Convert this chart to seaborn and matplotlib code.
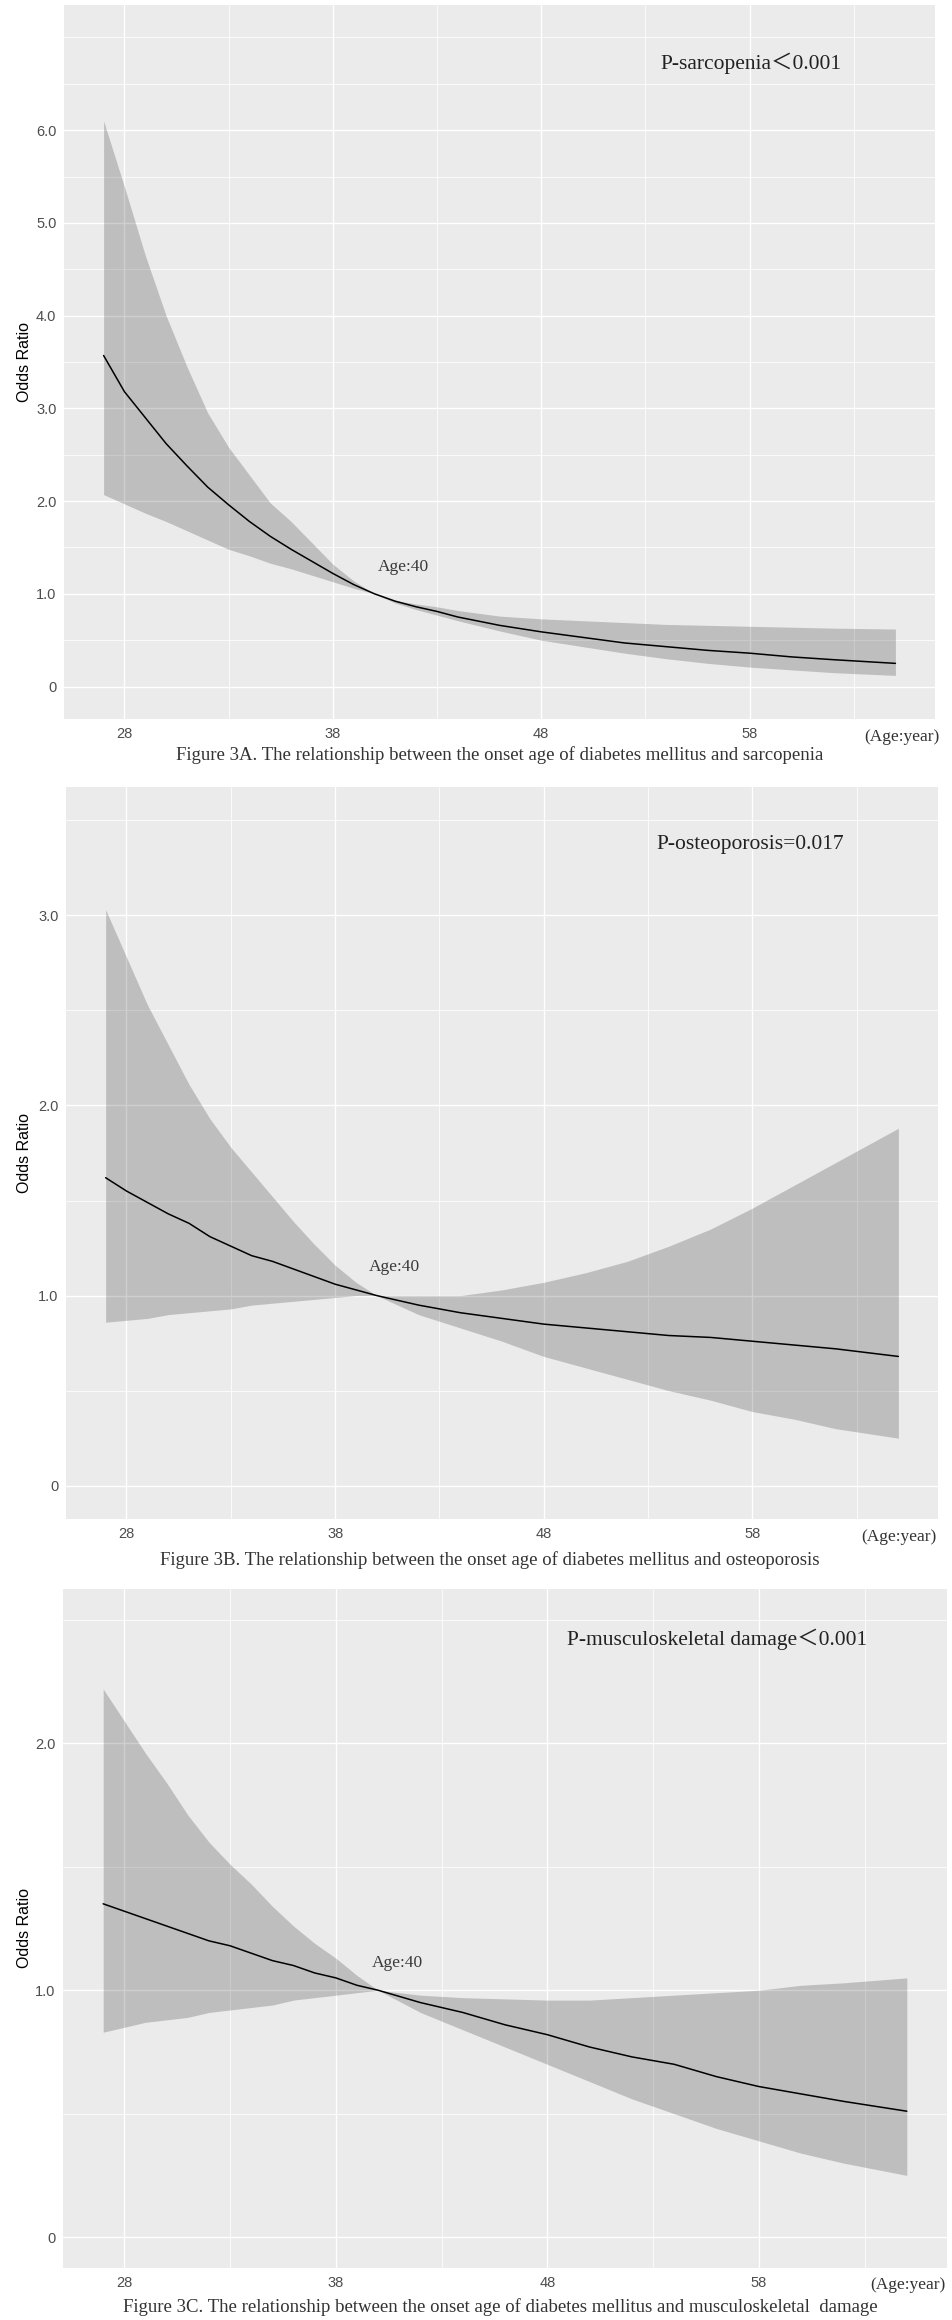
import numpy as np
import matplotlib.pyplot as plt
import seaborn as sns
import pandas as pd

# ---- Figure 3A: sarcopenia ----
ages_a = [27, 28, 29, 30, 31, 32, 33, 34, 35, 36, 37, 38, 39, 40, 41, 42, 43, 44,
          46, 48, 50, 52, 54, 56, 58, 60, 62, 65]
or_a = [3.57, 3.18, 2.90, 2.62, 2.38, 2.15, 1.96, 1.78, 1.62, 1.48, 1.35, 1.22, 1.10, 1.00,
        0.92, 0.86, 0.81, 0.75, 0.66, 0.59, 0.53, 0.47, 0.43, 0.39, 0.36, 0.32, 0.29, 0.25]
lo_a = [2.07, 1.97, 1.87, 1.78, 1.68, 1.58, 1.48, 1.41, 1.33, 1.27, 1.20, 1.13, 1.06, 1.00,
        0.90, 0.83, 0.77, 0.71, 0.60, 0.50, 0.43, 0.36, 0.30, 0.25, 0.21, 0.18, 0.15, 0.12]
hi_a = [6.10, 5.39, 4.65, 4.00, 3.45, 2.95, 2.58, 2.28, 1.98, 1.78, 1.55, 1.32, 1.14, 1.00,
        0.93, 0.89, 0.86, 0.82, 0.76, 0.73, 0.71, 0.69, 0.67, 0.66, 0.65, 0.64, 0.63, 0.62]

# ---- Figure 3B: osteoporosis ----
ages_b = [27, 28, 29, 30, 31, 32, 33, 34, 35, 36, 37, 38, 39, 40, 42, 44, 46, 48, 50,
          52, 54, 56, 58, 60, 62, 65]
or_b = [1.62, 1.55, 1.49, 1.43, 1.38, 1.31, 1.26, 1.21, 1.18, 1.14, 1.10, 1.06, 1.03, 1.00,
        0.95, 0.91, 0.88, 0.85, 0.83, 0.81, 0.79, 0.78, 0.76, 0.74, 0.72, 0.68]
lo_b = [0.86, 0.87, 0.88, 0.90, 0.91, 0.92, 0.93, 0.95, 0.96, 0.97, 0.98, 0.99, 1.00, 1.00,
        0.90, 0.83, 0.76, 0.68, 0.62, 0.56, 0.50, 0.45, 0.39, 0.35, 0.30, 0.25]
hi_b = [3.03, 2.78, 2.53, 2.32, 2.11, 1.93, 1.78, 1.65, 1.52, 1.39, 1.27, 1.16, 1.07, 1.00,
        1.00, 1.00, 1.03, 1.07, 1.12, 1.18, 1.26, 1.35, 1.46, 1.58, 1.70, 1.88]

# ---- Figure 3C: musculoskeletal damage ----
ages_c = [27, 28, 29, 30, 31, 32, 33, 34, 35, 36, 37, 38, 39, 40, 42, 44, 46, 48, 50,
          52, 54, 56, 58, 60, 62, 65]
or_c = [1.35, 1.32, 1.29, 1.26, 1.23, 1.20, 1.18, 1.15, 1.12, 1.10, 1.07, 1.05, 1.02, 1.00,
        0.95, 0.91, 0.86, 0.82, 0.77, 0.73, 0.70, 0.65, 0.61, 0.58, 0.55, 0.51]
lo_c = [0.83, 0.85, 0.87, 0.88, 0.89, 0.91, 0.92, 0.93, 0.94, 0.96, 0.97, 0.98, 0.99, 1.00,
        0.91, 0.84, 0.77, 0.70, 0.63, 0.56, 0.50, 0.44, 0.39, 0.34, 0.30, 0.25]
hi_c = [2.22, 2.09, 1.96, 1.84, 1.71, 1.60, 1.51, 1.43, 1.34, 1.26, 1.19, 1.13, 1.06, 1.00,
        0.98, 0.97, 0.965, 0.96, 0.96, 0.97, 0.98, 0.99, 1.00, 1.02, 1.03, 1.05]

x_ticks = [28, 38, 48, 58]
x_minor = [33, 43, 53, 63]

p_texts = ["P-sarcopenia\uff1c0.001", "P-osteoporosis=0.017", "P-musculoskeletal damage\uff1c0.001"]
captions = ["Figure 3A. The relationship between the onset age of diabetes mellitus and sarcopenia",
            "Figure 3B. The relationship between the onset age of diabetes mellitus and osteoporosis",
            "Figure 3C. The relationship between the onset age of diabetes mellitus and musculoskeletal  damage"]

sns.set_theme(style="darkgrid")
plt.rcParams['font.family'] = ['Liberation Sans', 'DejaVu Sans']
SERIF = ['Liberation Serif', 'Noto Sans CJK SC', 'DejaVu Serif']

W, H = 952, 2320
fig = plt.figure(figsize=(W / 100, H / 100), dpi=100)
fig.patch.set_facecolor('white')


def box(l, r, t, b):
    return [l / W, 1 - b / H, (r - l) / W, (b - t) / H]


# panel pixel boxes, y range, labelled y ticks, extra grid lines, text spots
panels = [
    dict(ages=ages_a, orr=or_a, lo=lo_a, hi=hi_a, px=(64, 935, 5, 719), ylim=(-0.35, 7.35),
         yt=[0, 1, 2, 3, 4, 5, 6], ym=[0.5, 1.5, 2.5, 3.5, 4.5, 5.5, 6.5, 7.0],
         ptxt=(62.4, 6.72), age40=(41.4, 1.29), tick_y=737, cap=(500, 755), unit_x=902),
    dict(ages=ages_b, orr=or_b, lo=lo_b, hi=hi_b, px=(66, 938, 787, 1519), ylim=(-0.175, 3.675),
         yt=[0, 1, 2, 3], ym=[0.5, 1.5, 2.5, 3.5],
         ptxt=(62.4, 3.37), age40=(40.85, 1.15), tick_y=1537, cap=(490, 1560), unit_x=899),
    dict(ages=ages_c, orr=or_c, lo=lo_c, hi=hi_c, px=(63, 947, 1589, 2268), ylim=(-0.125, 2.625),
         yt=[0, 1, 2], ym=[0.5, 1.5, 2.5],
         ptxt=(63.1, 2.42), age40=(40.9, 1.11), tick_y=2285, cap=(500, 2307), unit_x=908),
]

for i, p in enumerate(panels):
    ax = fig.add_axes(box(*p['px']))
    ax.set_facecolor('#EBEBEB')
    for sp in ax.spines.values():
        sp.set_visible(False)

    df = pd.DataFrame({'age': p['ages'], 'OR': p['orr'], 'lower': p['lo'], 'upper': p['hi']})

    ax.fill_between(df['age'], df['lower'], df['upper'], color='black', alpha=0.19, lw=0, zorder=2)
    sns.lineplot(data=df, x='age', y='OR', color='black', lw=1.1, estimator=None, ax=ax, zorder=3)

    ax.set_xlim(25.1, 66.9)
    ax.set_ylim(*p['ylim'])
    ax.set_xticks(x_ticks)
    ax.set_xticks(x_minor, minor=True)
    ax.set_xticklabels([str(t) for t in x_ticks])
    ax.set_yticks(p['yt'])
    ax.set_yticks(p['ym'], minor=True)
    ax.set_yticklabels(['0' if t == 0 else f'{t:.1f}' for t in p['yt']])

    ax.set_axisbelow(True)
    ax.grid(which='major', color='white', lw=1.0)
    ax.grid(which='minor', color='white', lw=0.55)
    ax.tick_params(which='major', length=3, width=0.8, color='#333333', direction='out',
                   labelcolor='#4D4D4D', labelsize=10.5, pad=2.5)
    ax.tick_params(which='minor', length=0)
    ax.set_xlabel('')
    ax.set_ylabel('')

    l, r, t, b = p['px']
    fig.text(25 / W, 1 - (t + b) / 2 / H, 'Odds Ratio', rotation=90, ha='center', va='center',
             fontsize=11.5, color='black')

    ax.text(p['ptxt'][0], p['ptxt'][1], p_texts[i], ha='right', va='center',
            fontsize=15.5, color='#222222', family=SERIF)
    ax.text(p['age40'][0], p['age40'][1], 'Age:40', ha='center', va='center',
            fontsize=12.5, color='#3A3A3A', family=SERIF)

    fig.text(p['unit_x'] / W, 1 - p['tick_y'] / H, '(Age:year)', ha='center', va='center',
             fontsize=12.5, color='#333333', family=SERIF)
    fig.text(p['cap'][0] / W, 1 - p['cap'][1] / H, captions[i], ha='center', va='center',
             fontsize=13.5, color='#333333', family=SERIF)

fig.savefig('out.png', dpi=100)
